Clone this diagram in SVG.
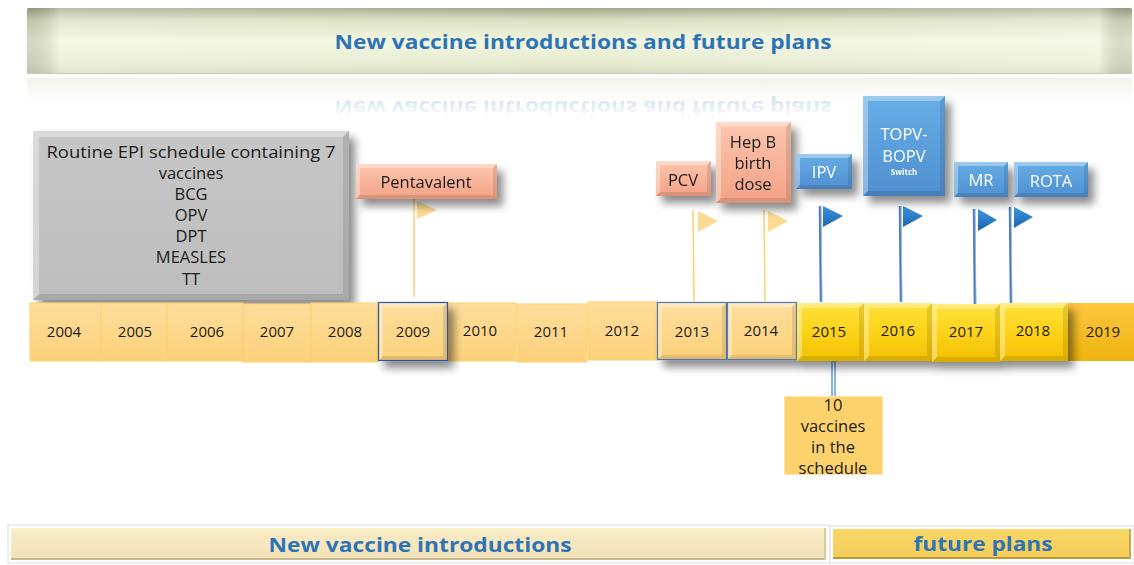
<svg xmlns="http://www.w3.org/2000/svg" width="1134" height="565" viewBox="0 0 1134 565">
  <defs>
    <style>
      .t { font-family: "Open Sans", "Liberation Sans", sans-serif; fill: #1c1c1c; text-anchor: middle; }
      .yr { font-size: 15px; }
      .box { font-size: 16.5px; }
      .wt { fill: #ffffff; }
      .head { font-family: "Open Sans", "Liberation Sans", sans-serif; font-weight: bold; fill: #2e74b5; text-anchor: middle; }
      .hi { fill: #ffffff; opacity: 0.35; }
      .lo { fill: #000000; opacity: 0.10; }
      .pole-o { stroke: #fcd072; stroke-width: 1.5; fill: none; }
      .pole-b { stroke: #4a7cb8; stroke-width: 2.5; fill: none; }
      .pole-b2 { stroke: #9cc0e6; stroke-width: 0.8; fill: none; }
      .flag-o { fill: #fdd47e; opacity: 0.85; }
      .flag-b { fill: url(#gFlagB); }
      .cellL { fill: url(#gCellL); stroke: #fbd26a; stroke-width: 1; }
      .cellY { fill: url(#gCellY); }
    </style>
    <linearGradient id="gBanner" x1="0" y1="0" x2="0" y2="1">
      <stop offset="0" stop-color="#a4a68a"/>
      <stop offset="0.18" stop-color="#dadfc0"/>
      <stop offset="0.5" stop-color="#f1f6de"/>
      <stop offset="0.85" stop-color="#e6eacf"/>
      <stop offset="1" stop-color="#d6dabd"/>
    </linearGradient>
    <linearGradient id="gBannerH" x1="0" y1="0" x2="1" y2="0">
      <stop offset="0" stop-color="#000000" stop-opacity="0.12"/>
      <stop offset="0.03" stop-color="#ffffff" stop-opacity="0.25"/>
      <stop offset="0.5" stop-color="#ffffff" stop-opacity="0"/>
      <stop offset="0.97" stop-color="#ffffff" stop-opacity="0.3"/>
      <stop offset="1" stop-color="#000000" stop-opacity="0.08"/>
    </linearGradient>
    <linearGradient id="gRefl" x1="0" y1="0" x2="0" y2="1">
      <stop offset="0" stop-color="#e4e7d4" stop-opacity="0.9"/>
      <stop offset="1" stop-color="#ffffff" stop-opacity="0"/>
    </linearGradient>
    <linearGradient id="gReflFade" x1="0" y1="0" x2="0" y2="1">
      <stop offset="0" stop-color="#ffffff" stop-opacity="0"/>
      <stop offset="1" stop-color="#ffffff" stop-opacity="1"/>
    </linearGradient>
    <linearGradient id="gGrey" x1="0" y1="0" x2="0" y2="1">
      <stop offset="0" stop-color="#c6c6c6"/>
      <stop offset="1" stop-color="#bdbdbd"/>
    </linearGradient>
    <linearGradient id="gCellL" x1="0" y1="0" x2="0" y2="1">
      <stop offset="0" stop-color="#fedd9c"/>
      <stop offset="1" stop-color="#fcd17a"/>
    </linearGradient>
    <linearGradient id="gCellY" x1="0" y1="0" x2="0" y2="1">
      <stop offset="0" stop-color="#ffe23a"/>
      <stop offset="0.5" stop-color="#fcd21a"/>
      <stop offset="1" stop-color="#f2c000"/>
    </linearGradient>
    <linearGradient id="gCell19" x1="0" y1="0" x2="0" y2="1">
      <stop offset="0" stop-color="#fcc63e"/>
      <stop offset="1" stop-color="#efb40e"/>
    </linearGradient>
    <linearGradient id="gSalmon" x1="0" y1="0" x2="0" y2="1">
      <stop offset="0" stop-color="#fcc6ad"/>
      <stop offset="1" stop-color="#f3a286"/>
    </linearGradient>
    <linearGradient id="gBlue" x1="0" y1="0" x2="0" y2="1">
      <stop offset="0" stop-color="#67aee6"/>
      <stop offset="1" stop-color="#4f8fd1"/>
    </linearGradient>
    <linearGradient id="gFlagB" x1="0" y1="0" x2="0" y2="1">
      <stop offset="0" stop-color="#3c95e0"/>
      <stop offset="1" stop-color="#1d64b0"/>
    </linearGradient>
    <linearGradient id="gBarL" x1="0" y1="0" x2="0" y2="1">
      <stop offset="0" stop-color="#fbf1c8"/>
      <stop offset="0.3" stop-color="#f6e8c2"/>
      <stop offset="1" stop-color="#f3e3b9"/>
    </linearGradient>
    <linearGradient id="gBarR" x1="0" y1="0" x2="0" y2="1">
      <stop offset="0" stop-color="#f9d868"/>
      <stop offset="1" stop-color="#f3cc58"/>
    </linearGradient>
    <filter id="shadow" x="-20%" y="-20%" width="150%" height="160%">
      <feGaussianBlur in="SourceAlpha" stdDeviation="4"/>
      <feOffset dx="6" dy="7" result="b"/>
      <feComponentTransfer><feFuncA type="linear" slope="0.45"/></feComponentTransfer>
      <feMerge><feMergeNode/><feMergeNode in="SourceGraphic"/></feMerge>
    </filter>
  </defs>

  <rect width="1134" height="565" fill="#ffffff"/>

  <!-- title banner -->
  <g id="title-banner">
    <rect x="27" y="8" width="1105" height="66" rx="2" fill="url(#gBanner)"/>
    <rect x="27" y="8" width="1105" height="66" rx="2" fill="url(#gBannerH)"/>
    <line x1="27" y1="73.5" x2="1132" y2="73.5" stroke="#c9ccb2" stroke-width="1"/>
    <text class="head" x="583" y="49" font-size="20" textLength="497" lengthAdjust="spacingAndGlyphs">New vaccine introductions and future plans</text>
  </g>

  <!-- banner reflection, fading downwards -->
  <g id="title-reflection" opacity="0.55">
    <rect x="27" y="78" width="1105" height="36" fill="url(#gRefl)"/>
    <g transform="translate(0,150) scale(1,-1)" opacity="0.35">
      <text class="head" x="583" y="49" font-size="20" textLength="497" lengthAdjust="spacingAndGlyphs">New vaccine introductions and future plans</text>
    </g>
    <rect x="27" y="100" width="1105" height="18" fill="url(#gReflFade)"/>
  </g>

  <!-- routine EPI box -->
  <g id="routine-epi" filter="url(#shadow)">
    <rect x="33" y="131" width="316" height="169" fill="url(#gGrey)"/>
    <path class="hi" d="M33 131 H349 L343 137 H39 Z M33 131 L39 137 V294 L33 300 Z"/>
    <path class="lo" d="M33 300 H349 L343 294 H39 Z M349 131 L349 300 L343 294 V137 Z"/>
  </g>
  <g id="routine-epi-text" class="t box">
    <text x="191" y="158" textLength="289" lengthAdjust="spacingAndGlyphs">Routine EPI  schedule containing 7</text>
    <text x="191" y="179">vaccines</text>
    <text x="191" y="200">BCG</text>
    <text x="191" y="221">OPV</text>
    <text x="191" y="242">DPT</text>
    <text x="191" y="263">MEASLES</text>
    <text x="191" y="285">TT</text>
  </g>

  <!-- connectors: flag poles and flags -->
  <g id="connectors">
    <line class="pole-o" x1="414" y1="199" x2="414" y2="297"/>
    <polygon class="flag-o" points="417,201 437,210 417,219"/>
    <line class="pole-o" x1="693" y1="210" x2="694" y2="301"/>
    <polygon class="flag-o" points="698,211 718,221 698,232"/>
    <line class="pole-o" x1="764" y1="210" x2="765" y2="301"/>
    <polygon class="flag-o" points="768,211 788,221 768,232"/>
    <line class="pole-b" x1="820" y1="206" x2="821" y2="302"/>
    <line class="pole-b2" x1="821" y1="206" x2="822" y2="302"/>
    <polygon class="flag-b" points="823,206 843,216 823,227"/>
    <line class="pole-b" x1="900" y1="206" x2="901" y2="302"/>
    <line class="pole-b2" x1="901" y1="206" x2="902" y2="302"/>
    <polygon class="flag-b" points="903,206 923,216 903,227"/>
    <line class="pole-b" x1="974" y1="209" x2="975" y2="306"/>
    <line class="pole-b2" x1="975" y1="209" x2="976" y2="306"/>
    <polygon class="flag-b" points="978,209 997,220 978,231"/>
    <line class="pole-b" x1="1010" y1="207" x2="1011" y2="303"/>
    <line class="pole-b2" x1="1011" y1="207" x2="1012" y2="303"/>
    <polygon class="flag-b" points="1014,207 1033,217 1014,228"/>
    <!-- 2015 call-out stem -->
    <line x1="832" y1="347" x2="832" y2="397" stroke="#5b9bd5" stroke-width="1.5"/>
    <line x1="835" y1="347" x2="835" y2="397" stroke="#5b9bd5" stroke-width="1.5"/>
    <circle cx="833.5" cy="347" r="4.5" fill="#5b9bd5"/>
  </g>

  <!-- vaccine labels -->
  <g id="pentavalent" filter="url(#shadow)">
    <rect x="356" y="164" width="141" height="35" fill="url(#gSalmon)"/>
    <path class="hi" d="M356 164 H497 L493 168 H360 Z M356 164 L360 168 V195 L356 199 Z"/>
    <path class="lo" d="M356 199 H497 L493 195 H360 Z M497 164 V199 L493 195 V168 Z"/>
    <text class="t box" x="426" y="188">Pentavalent</text>
  </g>
  <g id="pcv" filter="url(#shadow)">
    <rect x="656" y="161" width="55" height="35" fill="url(#gSalmon)"/>
    <path class="hi" d="M656 161 H711 L707 165 H660 Z M656 161 L660 165 V192 L656 196 Z"/>
    <path class="lo" d="M656 196 H711 L707 192 H660 Z M711 161 V196 L707 192 V165 Z"/>
    <text class="t box" x="683" y="186">PCV</text>
  </g>
  <g id="hepb" filter="url(#shadow)">
    <rect x="716" y="122" width="75" height="81" fill="url(#gSalmon)"/>
    <path class="hi" d="M716 122 H791 L786 127 H721 Z M716 122 L721 127 V198 L716 203 Z"/>
    <path class="lo" d="M716 203 H791 L786 198 H721 Z M791 122 V203 L786 198 V127 Z"/>
    <text class="t box" x="753" y="148">Hep B</text>
    <text class="t box" x="753" y="169">birth</text>
    <text class="t box" x="753" y="190">dose</text>
  </g>
  <g id="ipv" filter="url(#shadow)">
    <rect x="796" y="154" width="56" height="35" fill="url(#gBlue)"/>
    <path class="hi" d="M796 154 H852 L848 158 H800 Z M796 154 L800 158 V185 L796 189 Z"/>
    <path class="lo" d="M796 189 H852 L848 185 H800 Z M852 154 V189 L848 185 V158 Z"/>
    <text class="t box wt" x="824" y="178">IPV</text>
  </g>
  <g id="topv-bopv" filter="url(#shadow)">
    <rect x="863" y="96" width="82" height="100" fill="url(#gBlue)"/>
    <path class="hi" d="M863 96 H945 L940 101 H868 Z M863 96 L868 101 V191 L863 196 Z"/>
    <path class="lo" d="M863 196 H945 L940 191 H868 Z M945 96 V196 L940 191 V101 Z"/>
    <text class="t box wt" x="904" y="140">TOPV-</text>
    <text class="t box wt" x="904" y="162">BOPV</text>
    <text class="t wt" x="904" y="175" font-size="8" font-weight="bold">Switch</text>
  </g>
  <g id="mr" filter="url(#shadow)">
    <rect x="954" y="162" width="54" height="35" fill="url(#gBlue)"/>
    <path class="hi" d="M954 162 H1008 L1004 166 H958 Z M954 162 L958 166 V193 L954 197 Z"/>
    <path class="lo" d="M954 197 H1008 L1004 193 H958 Z M1008 162 V197 L1004 193 V166 Z"/>
    <text class="t box wt" x="981" y="186">MR</text>
  </g>
  <g id="rota" filter="url(#shadow)">
    <rect x="1014" y="162" width="74" height="35" fill="url(#gBlue)"/>
    <path class="hi" d="M1014 162 H1088 L1084 166 H1018 Z M1014 162 L1018 166 V193 L1014 197 Z"/>
    <path class="lo" d="M1014 197 H1088 L1084 193 H1018 Z M1088 162 V197 L1084 193 V166 Z"/>
    <text class="t box wt" x="1051" y="187">ROTA</text>
  </g>

  <!-- timeline: flat years -->
  <g id="years-flat" class="t yr">
    <g id="y2004"><rect class="cellL" x="30" y="303" width="71" height="58"/><text x="64" y="337">2004</text></g>
    <g id="y2005"><rect class="cellL" x="101" y="303" width="66" height="58"/><text x="135" y="337">2005</text></g>
    <g id="y2006"><rect class="cellL" x="167" y="303" width="76" height="58"/><text x="207" y="337">2006</text></g>
    <g id="y2007"><rect class="cellL" x="243" y="304" width="68" height="58"/><text x="277" y="337">2007</text></g>
    <g id="y2008"><rect class="cellL" x="311" y="303" width="67" height="59"/><text x="345" y="337">2008</text></g>
    <g id="y2010"><rect class="cellL" x="448" y="303" width="68" height="58"/><text x="480" y="336">2010</text></g>
    <g id="y2011"><rect class="cellL" x="517" y="304" width="70" height="58"/><text x="551" y="337">2011</text></g>
    <g id="y2012"><rect class="cellL" x="588" y="302" width="69" height="58"/><text x="622" y="336">2012</text></g>
    <g id="y2019"><rect x="1068" y="303" width="66" height="58" fill="url(#gCell19)"/><text x="1103" y="337">2019</text></g>
  </g>

  <!-- timeline: raised years -->
  <g id="years-raised" filter="url(#shadow)">
    <g id="y2009">
      <rect x="378" y="302" width="70" height="59" fill="url(#gCellL)"/>
      <path class="hi" d="M378 302 H448 L443 307 H383 Z M378 302 L383 307 V356 L378 361 Z"/>
      <path class="lo" d="M378 361 H448 L443 356 H383 Z M448 302 V361 L443 356 V307 Z"/>
      <rect x="378.5" y="302.5" width="69" height="58" fill="none" stroke="#2f55a4" stroke-width="1.2"/>
    </g>
    <g id="y2013">
      <rect x="657" y="302" width="70" height="58" fill="url(#gCellL)"/>
      <path class="hi" d="M657 302 H727 L722 307 H662 Z M657 302 L662 307 V355 L657 360 Z"/>
      <path class="lo" d="M657 360 H727 L722 355 H662 Z M727 302 V360 L722 355 V307 Z"/>
      <rect x="657.5" y="302.5" width="69" height="57" fill="none" stroke="#5577b0" stroke-width="1.2"/>
    </g>
    <g id="y2014">
      <rect x="727" y="302" width="70" height="58" fill="url(#gCellL)"/>
      <path class="hi" d="M727 302 H797 L792 307 H732 Z M727 302 L732 307 V355 L727 360 Z"/>
      <path class="lo" d="M727 360 H797 L792 355 H732 Z M797 302 V360 L792 355 V307 Z"/>
      <rect x="727.5" y="302.5" width="69" height="57" fill="none" stroke="#5577b0" stroke-width="1.2"/>
    </g>
    <g id="y2015">
      <rect class="cellY" x="797" y="303" width="67" height="58"/>
      <path class="hi" d="M797 303 H864 L859 308 H802 Z M797 303 L802 308 V356 L797 361 Z"/>
      <path class="lo" d="M797 361 H864 L859 356 H802 Z M864 303 V361 L859 356 V308 Z"/>
    </g>
    <g id="y2016">
      <rect class="cellY" x="864" y="303" width="68" height="58"/>
      <path class="hi" d="M864 303 H932 L927 308 H869 Z M864 303 L869 308 V356 L864 361 Z"/>
      <path class="lo" d="M864 361 H932 L927 356 H869 Z M932 303 V361 L927 356 V308 Z"/>
    </g>
    <g id="y2017">
      <rect class="cellY" x="932" y="304" width="68" height="58"/>
      <path class="hi" d="M932 304 H1000 L995 309 H937 Z M932 304 L937 309 V357 L932 362 Z"/>
      <path class="lo" d="M932 362 H1000 L995 357 H937 Z M1000 304 V362 L995 357 V309 Z"/>
    </g>
    <g id="y2018">
      <rect class="cellY" x="1000" y="303" width="68" height="58"/>
      <path class="hi" d="M1000 303 H1068 L1063 308 H1005 Z M1000 303 L1005 308 V356 L1000 361 Z"/>
      <path class="lo" d="M1000 361 H1068 L1063 356 H1005 Z M1068 303 V361 L1063 356 V308 Z"/>
    </g>
  </g>
  <g id="years-raised-text" class="t yr">
    <text x="413" y="337">2009</text>
    <text x="692" y="337">2013</text>
    <text x="761" y="336">2014</text>
    <text x="829" y="337">2015</text>
    <text x="898" y="336">2016</text>
    <text x="966" y="337">2017</text>
    <text x="1033" y="336">2018</text>
  </g>

  <!-- 2015 call-out -->
  <g id="ten-vaccines">
    <rect x="784" y="396" width="99" height="79" fill="#fdd26c"/>
    <rect x="784.5" y="396.5" width="98" height="78" fill="none" stroke="#fde6a8" stroke-width="1"/>
    <g class="t box">
      <text x="833" y="411">10</text>
      <text x="833" y="432">vaccines</text>
      <text x="833" y="453">in the</text>
      <text x="833" y="474">schedule</text>
    </g>
  </g>

  <!-- bottom legend bars -->
  <g id="legend-introductions">
    <rect x="8" y="525" width="822" height="38" fill="#ffffff" stroke="#dcdcdc" stroke-width="1"/>
    <rect x="11" y="528" width="815" height="32" fill="url(#gBarL)"/>
    <line x1="11" y1="559" x2="826" y2="559" stroke="#c9b98e" stroke-width="2"/>
    <line x1="825" y1="528" x2="825" y2="560" stroke="#d8c99e" stroke-width="2"/>
    <text class="head" x="420" y="552" font-size="20" textLength="303" lengthAdjust="spacingAndGlyphs">New vaccine introductions</text>
  </g>
  <g id="legend-future">
    <rect x="830" y="526" width="304" height="37" fill="#ffffff" stroke="#dcdcdc" stroke-width="1"/>
    <rect x="833" y="529" width="298" height="30" fill="url(#gBarR)"/>
    <line x1="833" y1="558" x2="1131" y2="558" stroke="#b99b3c" stroke-width="2"/>
    <line x1="1130" y1="529" x2="1130" y2="559" stroke="#c5a84a" stroke-width="2"/>
    <text class="head" x="983" y="551" font-size="20" textLength="139" lengthAdjust="spacingAndGlyphs">future plans</text>
  </g>
</svg>
